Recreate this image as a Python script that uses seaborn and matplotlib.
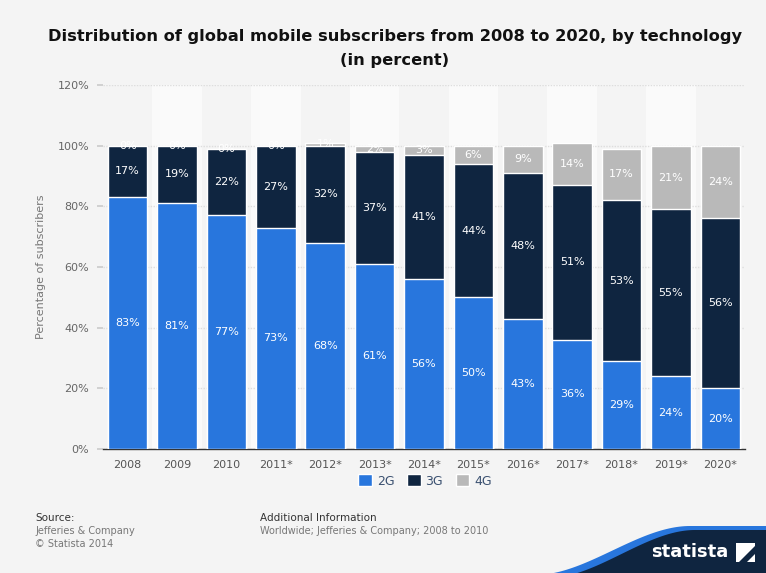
import numpy as np
import pandas as pd
import matplotlib
matplotlib.use("Agg")
import matplotlib.pyplot as plt
import seaborn as sns
from matplotlib.patches import Polygon, Patch

years = ["2008", "2009", "2010", "2011*", "2012*", "2013*", "2014*", "2015*",
         "2016*", "2017*", "2018*", "2019*", "2020*"]
g2 = [83, 81, 77, 73, 68, 61, 56, 50, 43, 36, 29, 24, 20]
g3 = [17, 19, 22, 27, 32, 37, 41, 44, 48, 51, 53, 55, 56]
g4 = [0, 0, 0, 0, 1, 2, 3, 6, 9, 14, 17, 21, 24]

c2, c3, c4 = "#2876dd", "#0f2540", "#b9b9b9"
bg = "#f4f4f4"

sns.set_theme(style="white")
plt.rcParams['font.family'] = ['DejaVu Sans']

fig = plt.figure(figsize=(7.66, 5.73), dpi=100, facecolor=bg)
ax = fig.add_axes([103/766, 1-449/573, (745-103)/766, (449-85)/573])
ax.set_facecolor(bg)

df = pd.DataFrame({"year": years, "g2": g2, "g3": g3, "g4": g4})
df["s23"] = df["g2"] + df["g3"]
df["s234"] = df["s23"] + df["g4"]

for i in range(len(years)):
    if i % 2 == 1:
        ax.axvspan(i-0.5, i+0.5, color="#fafafa", zorder=0, lw=0)

for col, c in [("s234", c4), ("s23", c3), ("g2", c2)]:
    sns.barplot(data=df, x="year", y=col, color=c, saturation=1, width=0.8,
                edgecolor="white", linewidth=1, ax=ax, zorder=3)

for i in range(len(years)):
    ax.text(i, g2[i]/2, f"{g2[i]}%", ha="center", va="center", color="white", fontsize=8, zorder=5)
    ax.text(i, g2[i]+g3[i]/2, f"{g3[i]}%", ha="center", va="center", color="white", fontsize=8, zorder=5)
    ax.text(i, g2[i]+g3[i]+g4[i]/2, f"{g4[i]}%", ha="center", va="center", color="white", fontsize=8, zorder=5)

ax.set_ylim(0, 120)
ax.set_xlim(-0.5, len(years)-0.5)
ax.set_yticks(range(0, 121, 20))
ax.set_yticklabels([f"{v}%" for v in range(0, 121, 20)], color="#666666", fontsize=8)
ax.tick_params(axis="y", length=4, color="#cccccc", pad=6, left=True)
ax.tick_params(axis="x", length=0, pad=8, labelsize=8, labelcolor="#555555")
ax.yaxis.grid(True, linestyle=(0, (1, 1)), color="#dddddd", lw=1, zorder=1)
ax.xaxis.grid(False)
ax.set_axisbelow(True)
for s in ["top", "right", "left"]:
    ax.spines[s].set_visible(False)
ax.spines["bottom"].set_color("#333333")
ax.spines["bottom"].set_linewidth(1)
ax.set_xlabel("")
ax.set_ylabel("Percentage of subscribers", color="#777777", fontsize=8, labelpad=8)

handles = [Patch(facecolor=c2), Patch(facecolor=c3), Patch(facecolor=c4)]
leg = fig.legend(handles, ["2G", "3G", "4G"], loc="center", bbox_to_anchor=(425/766, 1-481/573),
                 ncol=3, frameon=False, fontsize=9, handlelength=1.1, handleheight=1.1,
                 handletextpad=0.4, columnspacing=1.0)
for t in leg.get_texts():
    t.set_color("#3a5070")

fig.text(395/766, 1-37/573, "Distribution of global mobile subscribers from 2008 to 2020, by technology",
         ha="center", va="center", fontsize=11.7, fontweight="bold", color="#111111")
fig.text(395/766, 1-61/573, "(in percent)", ha="center", va="center", fontsize=11.7,
         fontweight="bold", color="#111111")

fig.text(35/766, 1-518/573, "Source:", fontsize=7.5, color="#333333", va="center")
fig.text(35/766, 1-531/573, "Jefferies & Company", fontsize=7, color="#777777", va="center")
fig.text(35/766, 1-544/573, "© Statista 2014", fontsize=7, color="#777777", va="center")
fig.text(260/766, 1-518/573, "Additional Information", fontsize=7.5, color="#333333", va="center")
fig.text(260/766, 1-531/573, "Worldwide; Jefferies & Company; 2008 to 2010", fontsize=7, color="#777777", va="center")

# statista logo: S-curve band
def scurve(x0, x1, ytop, ybot, n=60):
    t = np.linspace(0, 1, n)
    s = t*t*(3-2*t)
    xs = x0 + t*(x1-x0)
    ys = ybot - (ybot-ytop)*s
    pts = [(x/766, 1-y/573) for x, y in zip(xs, ys)]
    pts.append((766/766, 1-ytop/573))
    return pts

blue_pts = scurve(535, 690, 526, 575)
fig.patches.append(Polygon(blue_pts + [(1, 0), (535/766, 0)], closed=True,
                           transform=fig.transFigure, facecolor="#2876dd", edgecolor="none"))
navy_pts = scurve(548, 695, 530, 578)
fig.patches.append(Polygon(navy_pts + [(1, 0), (548/766, 0)], closed=True,
                           transform=fig.transFigure, facecolor="#0f2540", edgecolor="none"))
fig.text(728/766, 1-552/573, "statista", ha="right", va="center", fontsize=13,
         fontweight="bold", color="white")
fig.patches.append(Polygon([(736/766, 1-543/573), (755/766, 1-543/573), (755/766, 1-562/573),
                            (736/766, 1-562/573)], closed=True, transform=fig.transFigure,
                           facecolor="white", edgecolor="none"))
fig.patches.append(Polygon([(755/766, 1-546/573), (739/766, 1-562/573), (747/766, 1-562/573),
                            (755/766, 1-554/573)], closed=True, transform=fig.transFigure,
                           facecolor="#0f2540", edgecolor="none"))

fig.savefig("out.png", dpi=100, facecolor=bg)
